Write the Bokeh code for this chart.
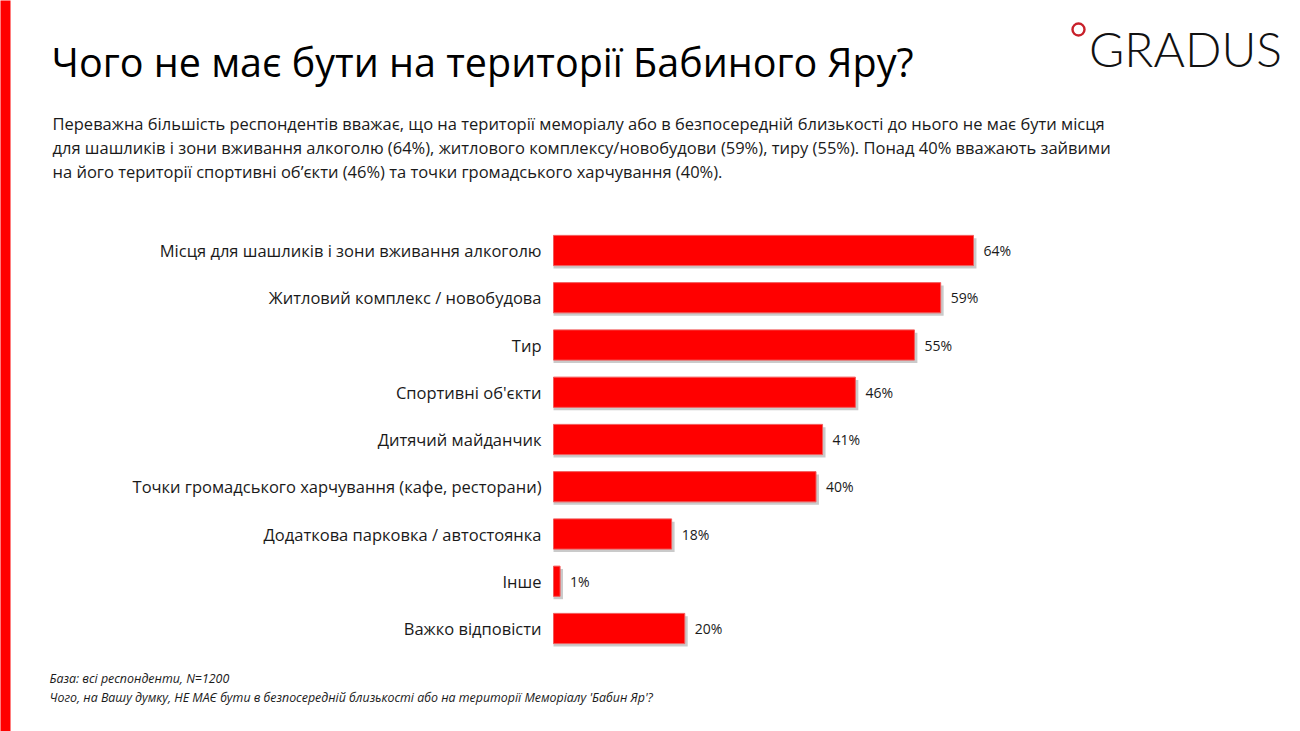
from bokeh.plotting import figure
from bokeh.models import Range1d, Label, BoxAnnotation, ColumnDataSource, LinearScale
from bokeh.core.properties import value
from bokeh.embed import file_html
from bokeh.resources import INLINE

categories = [
    "Місця для шашликів і зони вживання алкоголю",
    "Житловий комплекс / новобудова",
    "Тир",
    "Спортивні об'єкти",
    "Дитячий майданчик",
    "Точки громадського харчування (кафе, ресторани)",
    "Додаткова парковка / автостоянка",
    "Інше",
    "Важко відповісти",
]
values = [64, 59, 55, 46, 41, 40, 18, 1, 20]
value_labels = [f"{v}%" for v in values]

title_text = "Чого не має бути на території Бабиного Яру?"
subtitle_lines = [
    "Переважна більшість респондентів вважає, що на території меморіалу або в безпосередній близькості до нього не має бути місця",
    "для шашликів і зони вживання алкоголю (64%), житлового комплексу/новобудови (59%), тиру (55%). Понад 40% вважають зайвими",
    "на його території спортивні об’єкти (46%) та точки громадського харчування (40%).",
]
footnote_lines = [
    "База: всі респонденти, N=1200",
    "Чого, на Вашу думку, НЕ МАЄ бути в безпосередній близькості або на території Меморіалу 'Бабин Яр'?",
]

W, H = 1300, 731
FONT = "Open Sans"

# geometry of the plotting area (pixels inside the canvas)
X0, PX_PER_PCT = 553, 6.5625          # bar baseline and px per percent
Y0, ROW = 250, 47.25                  # first row centre and row pitch

rows = list(range(len(categories)))
src = ColumnDataSource(dict(row=rows, cat=categories, val=values, lab=value_labels,
                            shadow_row=[r + 0.06 for r in rows],
                            shadow=[v + 0.45 for v in values]))

p = figure(width=W, height=H, output_backend="svg", toolbar_location=None,
           x_axis_location=None, y_axis_location=None,
           x_range=Range1d(-X0 / PX_PER_PCT, (W - X0) / PX_PER_PCT),
           y_range=Range1d((H - Y0) / ROW, -Y0 / ROW),
           min_border=0)
p.title.visible = False
p.outline_line_color = None
p.grid.visible = False
p.background_fill_color = "white"
p.border_fill_color = "white"

# pixel helper ranges for free text placement
p.extra_x_ranges = {"px": Range1d(0, W)}
p.extra_x_scales = {"px": LinearScale()}
p.extra_y_ranges = {"py": Range1d(H, 0)}
p.extra_y_scales = {"py": LinearScale()}

# shadow
p.hbar(y="shadow_row", left=0, right="shadow", height=0.64,
       source=src, fill_color="#8a8a8a", fill_alpha=0.45, line_color=None)
# bars
p.hbar(y="row", left=0, right="val", height=0.64, source=src,
       fill_color="#FF0000", line_color="#F25A5A", line_width=1)
# value labels
p.text(x="val", y="row", text="lab", source=src, x_offset=10,
       text_font=value(FONT), text_font_size="14px", text_color="#1a1a1a",
       text_baseline="middle", text_align="left")
# category labels
p.text(x=0, y="row", text="cat", source=src, x_offset=-12,
       text_font=value(FONT), text_font_size="16.5px", text_color="#1a1a1a",
       text_baseline="middle", text_align="right")

def lab(x, y, text, size, style="normal", color="#111111", font=FONT,
        baseline="alphabetic", align="left"):
    p.add_layout(Label(x=x, y=y, x_range_name="px", y_range_name="py", text=text,
                       text_font=font, text_font_size=size, text_font_style=style,
                       text_color=color, text_baseline=baseline, text_align=align))

lab(51, 61, title_text, "39.5px", color="#000000")
for i, line in enumerate(subtitle_lines):
    lab(52, 123 + 24 * i, line, "16.5px", color="#1a1a1a")
for i, line in enumerate(footnote_lines):
    lab(49, 678 + 19 * i, line, "12.4px", style="italic", color="#1a1a1a")

# logo
lab(1185, 48, "GRADUS", "48px", color="#111111", font="Lato Light", align="center")
p.scatter(x=[1078], y=[29], x_range_name="px", y_range_name="py", marker="circle",
          size=12, fill_color=None, line_color="#C8202A", line_width=2.4)

# red strip at page left edge
p.add_layout(BoxAnnotation(left=-20, right=10, bottom=H + 20, top=-20,
                           x_range_name="px", y_range_name="py",
                           fill_color="#FF0000", fill_alpha=1, line_color=None))

open("out.html", "w").write(file_html(p, INLINE))
